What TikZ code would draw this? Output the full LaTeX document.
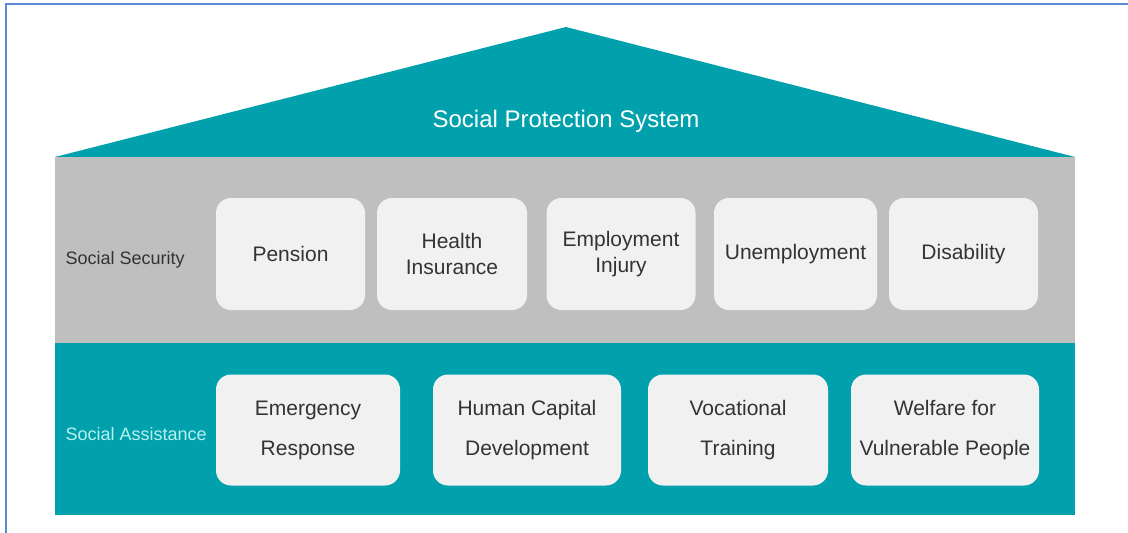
\documentclass[tikz,border=0pt]{standalone}
\usepackage{fontspec}
\setmainfont{Liberation Sans}
\definecolor{teal}{RGB}{0,161,172}
\definecolor{band}{RGB}{191,191,191}
\definecolor{tilefill}{RGB}{241,241,241}
\definecolor{ink}{RGB}{51,51,51}
\definecolor{frameblue}{RGB}{91,139,214}
\definecolor{lightcyan}{RGB}{184,240,240}
\begin{document}
\begin{tikzpicture}[x=1pt, y=-1pt,
    tile/.style={fill=tilefill, rounded corners=15pt, align=center, text=ink,
        minimum height=112pt, inner sep=0pt},
    tilelow/.style={tile, minimum height=111pt, font=\fontsize{21}{40}\selectfont},
    tilehigh/.style={tile, font=\fontsize{21}{26}\selectfont},
    side/.style={anchor=west, font=\fontsize{18}{22}\selectfont}]
            \useasboundingbox (0,0) rectangle (1128,533);
            % Frame
            \draw[frameblue, line width=1.5pt] (6,533) -- (6,4) -- (1128,4);

            % House
            \fill[teal] (55,157) -- (566,27) -- (1075,157) -- cycle;
            \fill[band] (55,157) rectangle (1075,343);
            \fill[teal] (55,343) rectangle (1075,515);

            % Nodes
            \node[text=white, font=\fontsize{24}{28}\selectfont] (SPS) at (566,121) {Social Protection System};
            \node[side, text=ink] (SS) at (62,260) {Social Security};
            \node[side, text=lightcyan] (SA) at (62,434) {Social Assistance};

            \node[tilehigh, minimum width=149pt] (pension) at (290.5,254) {Pension};
            \node[tilehigh, minimum width=150pt] (health) at (452,254) {Health\\Insurance};
            \node[tilehigh, minimum width=149pt] (injury) at (621,254) {Employment\\Injury};
            \node[tilehigh, minimum width=163pt] (unemp) at (795.5,254) {Unemployment};
            \node[tilehigh, minimum width=149pt] (disab) at (963.5,254) {Disability};

            \node[tilelow, minimum width=184pt] (emerg) at (308,430) {Emergency\\Response};
            \node[tilelow, minimum width=188pt] (human) at (527,430) {Human Capital\\Development};
            \node[tilelow, minimum width=180pt] (vocat) at (738,430) {Vocational\\Training};
            \node[tilelow, minimum width=188pt] (welfare) at (945,430) {Welfare for\\Vulnerable People};
        \end{tikzpicture}
\end{document}
